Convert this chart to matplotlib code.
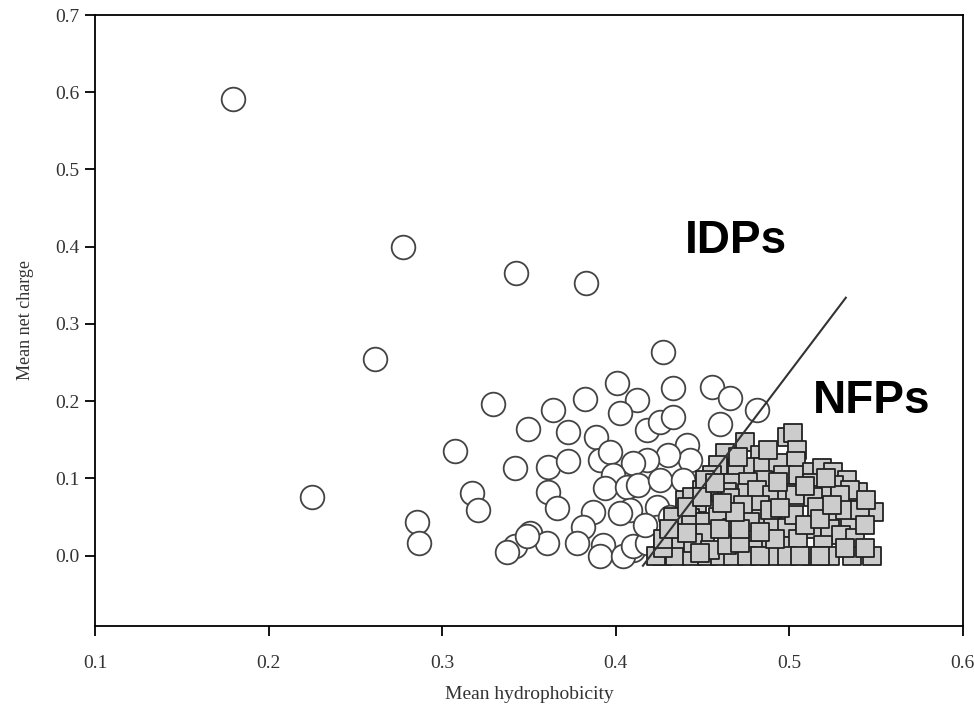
import numpy as np
import matplotlib
matplotlib.use("Agg")
import matplotlib.pyplot as plt

# ---------------------------------
# Data
# ---------------------------------
# IDPs: intrinsically disordered proteins (open circles)
idp_hydro = [0.1795, 0.2774, 0.3425, 0.3828, 0.2613, 0.225, 0.4272, 0.3292,
             0.3074, 0.3172, 0.3206, 0.2855, 0.2866, 0.342, 0.3494, 0.3638,
             0.3724, 0.3609, 0.3724, 0.3609, 0.3661, 0.3822, 0.4007, 0.4122,
             0.4024, 0.3886, 0.418, 0.4254, 0.4329, 0.4329, 0.4554, 0.4658,
             0.46, 0.4813, 0.441, 0.4427, 0.43, 0.418, 0.41, 0.3909,
             0.3966, 0.3984, 0.3938, 0.4064, 0.4128, 0.4254, 0.4387, 0.4237,
             0.4237, 0.4208, 0.4099, 0.4082, 0.3869, 0.3811, 0.4024, 0.4312,
             0.342, 0.3373, 0.3506, 0.3604, 0.3776, 0.3926, 0.3909, 0.4041,
             0.4099, 0.418, 0.3489, 0.4169]
idp_charge = [0.591, 0.400, 0.366, 0.353, 0.255, 0.076, 0.264, 0.197,
              0.135, 0.0815, 0.0595, 0.043, 0.017, 0.114, 0.164, 0.189,
              0.160, 0.115, 0.122, 0.083, 0.062, 0.203, 0.224, 0.202,
              0.185, 0.154, 0.163, 0.173, 0.179, 0.217, 0.219, 0.204,
              0.170, 0.189, 0.143, 0.124, 0.131, 0.124, 0.120, 0.124,
              0.134, 0.105, 0.088, 0.089, 0.092, 0.098, 0.098, 0.063,
              0.0375, 0.017, 0.008, 0.0595, 0.057, 0.0375, 0.0556, 0.050,
              0.012, 0.005, 0.030, 0.017, 0.017, 0.014, -0.001, -0.001,
              0.012, 0.017, 0.025, 0.040]

# NFPs: natively folded proteins (grey squares)
nfp_hydro = [0.4986, 0.502, 0.4744, 0.5044, 0.4629, 0.483, 0.504, 0.4589,
             0.4698, 0.479, 0.4848, 0.4934, 0.4963, 0.505, 0.513, 0.5186,
             0.525, 0.533, 0.4848, 0.513, 0.526, 0.5395, 0.535, 0.4554,
             0.4669, 0.476, 0.4542, 0.464, 0.4756, 0.4496, 0.4813, 0.49,
             0.4986, 0.5032, 0.5188, 0.529, 0.483, 0.5136, 0.5159, 0.525,
             0.535, 0.549, 0.4813, 0.4905, 0.4986, 0.513, 0.5234, 0.530,
             0.5378, 0.4848, 0.4957, 0.505, 0.5193, 0.479,
             0.4266, 0.4341, 0.4439, 0.4525, 0.46, 0.4675, 0.4756, 0.4888,
             0.4986, 0.513, 0.5234, 0.536, 0.5475, 0.423, 0.483, 0.506,
             0.5176,
             0.4398, 0.4467, 0.4658, 0.4733, 0.437, 0.4427, 0.4514, 0.4589,
             0.4669, 0.4773, 0.4514, 0.437, 0.4445, 0.4543, 0.464, 0.4715,
             0.4272, 0.433, 0.4272, 0.441, 0.4485, 0.431,
             0.4514, 0.444, 0.441, 0.450, 0.4888, 0.503, 0.4917, 0.509,
             0.5176, 0.532, 0.5406, 0.5435, 0.532, 0.5435, 0.4715, 0.483,
             0.46, 0.4687, 0.4877, 0.4572,
             0.4935, 0.509, 0.521, 0.544, 0.4705, 0.4615, 0.4945, 0.5245]
nfp_charge = [0.154, 0.159, 0.1475, 0.137, 0.133, 0.131, 0.122, 0.118,
              0.114, 0.115, 0.115, 0.120, 0.105, 0.105, 0.109, 0.114,
              0.109, 0.098, 0.098, 0.094, 0.092, 0.083, 0.085, 0.105,
              0.094, 0.096, 0.083, 0.083, 0.0815, 0.085, 0.085, 0.079,
              0.0815, 0.079, 0.079, 0.079, 0.066, 0.076, 0.063, 0.047,
              0.043, 0.057, 0.047, 0.0375, 0.036, 0.034, 0.034, 0.027,
              0.023, 0.021, 0.012, 0.021, 0.014, 0.008,
              0.0, 0.0, 0.0, 0.0, 0.0, 0.0, 0.0, 0.0,
              0.0, 0.0, 0.0, 0.0, 0.0, 0.0, 0.0, 0.0,
              0.0,
              0.072, 0.0686, 0.075, 0.066, 0.049, 0.049, 0.043, 0.050,
              0.036, 0.044, 0.030, 0.021, 0.017, 0.008, 0.014, 0.017,
              0.010, 0.050, 0.021, 0.030, 0.004, 0.034,
              0.098, 0.076, 0.063, 0.076, 0.0595, 0.053, 0.021, 0.040,
              0.047, 0.0595, 0.0595, 0.040, 0.010, 0.010, 0.034, 0.031,
              0.034, 0.057, 0.137, 0.094,
              0.096, 0.090, 0.100, 0.072, 0.128, 0.068, 0.062, 0.066]

# boundary line between the two groups
boundary_hydro = [0.4157, 0.5326]
boundary_charge = [-0.013, 0.334]

x_ticks = [0.1, 0.2, 0.3, 0.4, 0.5, 0.6]
y_ticks = [0.0, 0.1, 0.2, 0.3, 0.4, 0.5, 0.6, 0.7]

# ---------------------------------
# Plot
# ---------------------------------
serif = "Liberation Serif"
fig = plt.figure(figsize=(9.74, 7.15), dpi=100)
ax = fig.add_axes([0.0975, 0.1245, 0.891, 0.8545])

ax.scatter(idp_hydro, idp_charge, s=290, marker='o', facecolors='white',
           edgecolors='#444444', linewidths=1.3, zorder=2)
ax.scatter(nfp_hydro, nfp_charge, s=150, marker='s', facecolors='#cccccc',
           edgecolors='#222222', linewidths=1.3, zorder=3)
ax.plot(boundary_hydro, boundary_charge, color='#333333', lw=1.5, zorder=4)

ax.text(0.440, 0.392, "IDPs", fontsize=33, fontweight='bold',
        family="Liberation Sans")
ax.text(0.5136, 0.185, "NFPs", fontsize=33, fontweight='bold',
        family="Liberation Sans")

ax.set_xlim(0.1, 0.6)
ax.set_ylim(-0.091, 0.7)
ax.set_xticks(x_ticks)
ax.set_yticks(y_ticks)
ax.set_xticklabels([f"{v:.1f}" for v in x_ticks], family=serif, fontsize=14,
                   color='#333333')
ax.set_yticklabels([f"{v:.1f}" for v in y_ticks], family=serif, fontsize=14,
                   color='#333333')
ax.tick_params(direction='out', length=7, width=1.3, pad=4)
ax.tick_params(axis='x', pad=14)
for sp in ax.spines.values():
    sp.set_linewidth(1.3)

ax.set_xlabel("Mean hydrophobicity", family=serif, fontsize=14,
              color='#333333', labelpad=10)
ax.set_ylabel("Mean net charge", family=serif, fontsize=13,
              color='#333333', labelpad=15)

fig.savefig("out.png", dpi=100)
